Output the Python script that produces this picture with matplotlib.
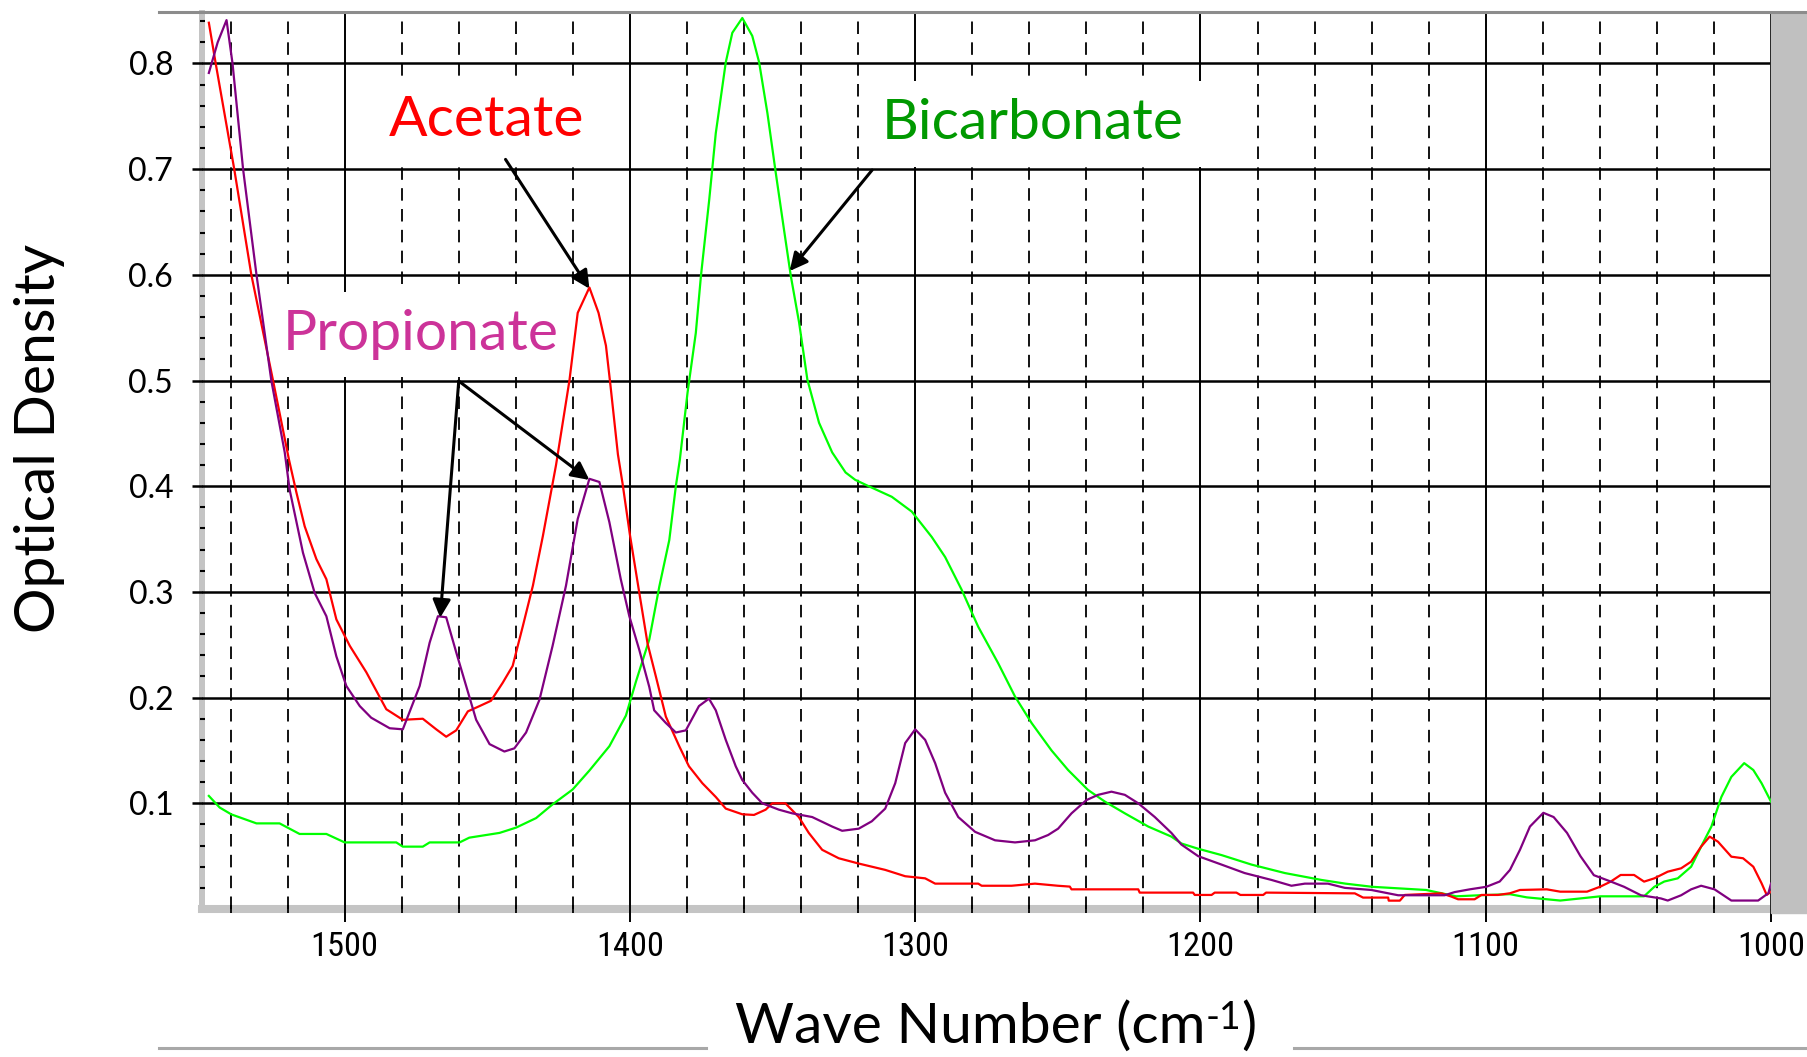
import matplotlib
matplotlib.use('Agg')
import matplotlib.pyplot as plt
from matplotlib.lines import Line2D
from matplotlib.patches import Rectangle
from matplotlib import font_manager as fm

plt.rcParams['font.family'] = ['Lato', 'DejaVu Sans']
plt.rcParams['lines.scale_dashes'] = False

# ---------------- data ----------------
acetate_wn = [1547.6, 1545.2, 1538.7, 1532.7, 1525.1, 1519.5, 1516.9, 1514.0, 1509.9, 1506.4,
              1502.9, 1498.2, 1492.4, 1485.4, 1479.6, 1472.6, 1467.9, 1464.4, 1460.9, 1456.8,
              1452.7, 1448.7, 1444.6, 1441.1, 1437.5, 1434.0, 1430.5, 1425.9, 1421.2, 1418.3,
              1414.2, 1411.0, 1408.4, 1406.8, 1404.2, 1402.6, 1400.0, 1396.7, 1393.8, 1390.9,
              1387.4, 1382.7, 1379.3, 1374.6, 1369.9, 1366.4, 1360.6, 1356.5, 1352.4, 1350.1,
              1345.5, 1340.8, 1337.3, 1332.6, 1326.8, 1319.8, 1310.5, 1303.5, 1296.5, 1293.0,
              1277.9, 1276.7, 1266.2, 1258.0, 1250.0, 1245.8, 1245.2, 1221.8, 1221.3, 1202.6,
              1202.0, 1196.1, 1195.0, 1187.4, 1186.0, 1178.0, 1177.0, 1145.9, 1143.0, 1134.2,
              1134.0, 1130.1, 1128.4, 1115.5, 1112.0, 1109.7, 1103.9, 1101.5, 1095.7, 1091.5,
              1088.0, 1078.6, 1073.9, 1064.5, 1059.8, 1056.2, 1052.7, 1048.0, 1044.5, 1040.9,
              1036.2, 1031.5, 1028.0, 1024.5, 1021.5, 1018.6, 1013.9, 1009.8, 1006.2, 1003.3,
              1001.5, 1000.0]
acetate_od = [0.8385, 0.800, 0.700, 0.600, 0.500, 0.425, 0.394, 0.362, 0.331, 0.312,
              0.274, 0.249, 0.224, 0.189, 0.179, 0.180, 0.170, 0.163, 0.169, 0.187,
              0.192, 0.197, 0.214, 0.230, 0.268, 0.306, 0.353, 0.420, 0.500, 0.564,
              0.588, 0.564, 0.533, 0.495, 0.430, 0.403, 0.354, 0.299, 0.251, 0.220,
              0.182, 0.154, 0.135, 0.119, 0.106, 0.095, 0.0896, 0.089, 0.094, 0.100,
              0.100, 0.087, 0.072, 0.056, 0.048, 0.043, 0.037, 0.031, 0.029, 0.024,
              0.024, 0.022, 0.022, 0.024, 0.022, 0.0212, 0.0186, 0.0186, 0.0155, 0.0155,
              0.0133, 0.0133, 0.0155, 0.0155, 0.0133, 0.0133, 0.0155, 0.0148, 0.0108, 0.0108,
              0.0079, 0.0079, 0.0133, 0.0148, 0.0117, 0.0092, 0.0092, 0.0133, 0.0133, 0.0149,
              0.018, 0.0186, 0.0164, 0.0164, 0.0212, 0.0259, 0.0322, 0.0322, 0.0259, 0.029,
              0.0353, 0.0385, 0.0448, 0.059, 0.0685, 0.0637, 0.0495, 0.048, 0.040, 0.0243,
              0.0133, 0.0164]

propionate_wn = [1547.6, 1544.5, 1541.4, 1539.3, 1535.6, 1530.9, 1525.7, 1521.0, 1519.3, 1514.6,
                 1510.5, 1506.4, 1502.9, 1499.4, 1494.7, 1490.7, 1484.2, 1479.6, 1473.7, 1470.2,
                 1467.3, 1464.4, 1460.9, 1457.4, 1453.9, 1449.2, 1444.0, 1440.5, 1436.4, 1431.7,
                 1427.1, 1422.4, 1418.3, 1414.2, 1410.7, 1407.2, 1403.2, 1400.2, 1396.7, 1393.2,
                 1391.5, 1387.4, 1383.9, 1380.4, 1375.8, 1372.3, 1369.9, 1366.4, 1362.9, 1360.6,
                 1357.1, 1353.6, 1347.8, 1343.1, 1336.1, 1329.1, 1325.6, 1319.8, 1315.2, 1310.5,
                 1307.0, 1303.5, 1300.0, 1296.5, 1293.0, 1289.5, 1284.9, 1279.0, 1272.0, 1265.0,
                 1258.0, 1253.4, 1249.9, 1245.2, 1240.0, 1235.9, 1231.2, 1226.5, 1221.8, 1216.0,
                 1210.2, 1206.7, 1200.8, 1192.6, 1184.5, 1175.1, 1168.1, 1163.4, 1155.3, 1149.4,
                 1140.1, 1130.7, 1114.4, 1110.9, 1105.6, 1099.8, 1095.1, 1091.5, 1088.0, 1084.5,
                 1079.8, 1076.2, 1071.5, 1066.8, 1062.1, 1056.2, 1051.5, 1045.6, 1038.6, 1036.2,
                 1031.5, 1028.0, 1024.5, 1019.8, 1013.9, 1004.5, 1000.9, 1000.0]
propionate_od = [0.791, 0.820, 0.841, 0.800, 0.700, 0.600, 0.500, 0.432, 0.397, 0.337,
                 0.299, 0.277, 0.239, 0.211, 0.192, 0.181, 0.171, 0.170, 0.211, 0.252,
                 0.277, 0.276, 0.243, 0.211, 0.179, 0.156, 0.149, 0.152, 0.167, 0.198,
                 0.249, 0.306, 0.369, 0.407, 0.404, 0.366, 0.312, 0.277, 0.245, 0.210,
                 0.188, 0.176, 0.167, 0.169, 0.192, 0.199, 0.188, 0.160, 0.135, 0.122,
                 0.110, 0.100, 0.094, 0.0905, 0.087, 0.078, 0.074, 0.076, 0.083, 0.095,
                 0.119, 0.157, 0.170, 0.160, 0.138, 0.110, 0.087, 0.073, 0.065, 0.063,
                 0.065, 0.070, 0.076, 0.0905, 0.103, 0.108, 0.111, 0.108, 0.100, 0.087,
                 0.072, 0.061, 0.050, 0.042, 0.034, 0.0275, 0.022, 0.024, 0.024, 0.020,
                 0.018, 0.013, 0.013, 0.016, 0.0186, 0.021, 0.026, 0.037, 0.056, 0.078,
                 0.091, 0.087, 0.072, 0.050, 0.032, 0.026, 0.021, 0.013, 0.010, 0.008,
                 0.013, 0.0186, 0.022, 0.0186, 0.008, 0.008, 0.015, 0.024]

bicarbonate_wn = [1547.6, 1543.8, 1539.7, 1530.9, 1522.8, 1515.8, 1506.4, 1500.0, 1481.9, 1479.6,
                  1472.6, 1470.2, 1459.7, 1456.3, 1445.7, 1439.9, 1432.9, 1427.1, 1420.1, 1414.2,
                  1407.2, 1401.4, 1397.9, 1393.2, 1389.7, 1386.2, 1383.9, 1382.5, 1379.8, 1376.9,
                  1375.1, 1372.2, 1369.9, 1366.4, 1364.1, 1360.6, 1357.1, 1354.7, 1351.8, 1348.9,
                  1346.0, 1343.6, 1340.7, 1337.8, 1333.7, 1329.1, 1324.4, 1321.0, 1316.3, 1308.2,
                  1301.2, 1294.2, 1289.5, 1283.7, 1277.9, 1270.9, 1265.0, 1259.2, 1252.2, 1246.4,
                  1239.4, 1233.5, 1226.5, 1218.3, 1210.2, 1206.7, 1200.8, 1192.6, 1182.1, 1170.4,
                  1157.6, 1149.2, 1139.8, 1120.9, 1110.4, 1102.1, 1091.5, 1085.6, 1073.9, 1066.8,
                  1059.8, 1044.5, 1040.9, 1037.4, 1032.7, 1028.0, 1024.5, 1020.9, 1017.4, 1013.9,
                  1009.4, 1006.2, 1003.3, 1000.0]
bicarbonate_od = [0.107, 0.096, 0.0895, 0.081, 0.081, 0.071, 0.071, 0.063, 0.063, 0.059,
                  0.059, 0.063, 0.063, 0.0675, 0.072, 0.077, 0.086, 0.099, 0.113, 0.131,
                  0.154, 0.183, 0.215, 0.255, 0.305, 0.349, 0.400, 0.425, 0.4885, 0.545,
                  0.599, 0.671, 0.734, 0.801, 0.829, 0.843, 0.826, 0.801, 0.753, 0.697,
                  0.643, 0.599, 0.555, 0.501, 0.460, 0.432, 0.413, 0.406, 0.400, 0.390,
                  0.376, 0.352, 0.333, 0.302, 0.267, 0.2325, 0.201, 0.176, 0.150, 0.1315,
                  0.1126, 0.1016, 0.0905, 0.078, 0.0685, 0.062, 0.057, 0.051, 0.042, 0.034,
                  0.0275, 0.024, 0.021, 0.018, 0.012, 0.013, 0.014, 0.011, 0.008, 0.010,
                  0.012, 0.012, 0.021, 0.026, 0.029, 0.040, 0.059, 0.078, 0.106, 0.125,
                  0.138, 0.1315, 0.119, 0.1016]

x_major = [1500, 1400, 1300, 1200, 1100, 1000]
x_major_labels = ['1500', '1400', '1300', '1200', '1100', '1000']
x_minor = [1540, 1520, 1480, 1460, 1440, 1420, 1380, 1360, 1340, 1320, 1280, 1260, 1240,
           1220, 1180, 1160, 1140, 1120, 1080, 1060, 1040, 1020]
y_major = [0.1, 0.2, 0.3, 0.4, 0.5, 0.6, 0.7, 0.8]
y_major_labels = ['0.1', '0.2', '0.3', '0.4', '0.5', '0.6', '0.7', '0.8']
y_minor = [0.02, 0.04, 0.06, 0.08, 0.12, 0.14, 0.16, 0.18, 0.22, 0.24, 0.26, 0.28,
           0.32, 0.34, 0.36, 0.38, 0.42, 0.44, 0.46, 0.48, 0.52, 0.54, 0.56, 0.58,
           0.62, 0.64, 0.66, 0.68, 0.72, 0.74, 0.76, 0.78, 0.82, 0.84]


# ---------------- narrow font for the x tick labels ----------------
def find_narrow_font():
    prefs = ['liberation sans narrow', 'arial narrow', 'roboto condensed',
             'open sans condensed', 'noto sans condensed', 'dejavu sans condensed',
             'condensed', 'narrow']
    best, best_rank = None, 999
    for f in fm.fontManager.ttflist:
        fname = f.fname.lower()
        key = (f.name + ' ' + fname.split('/')[-1]).lower()
        if f.style != 'normal':
            continue
        if any(b in fname for b in ('bold', 'italic', 'oblique', 'mono', 'serif', 'light',
                                     'thin', 'medium', 'black', 'semi', 'extra')):
            continue
        st = str(f.stretch).lower()
        if not ('narrow' in key or 'condensed' in key or 'condensed' in st):
            continue
        for r, p in enumerate(prefs):
            if all(w in key for w in p.split()) or (p.startswith('dejavu') and 'dejavusanscondensed' in fname):
                if r < best_rank:
                    best, best_rank = f, r
                break
    if best is not None:
        return fm.FontProperties(fname=best.fname)
    return fm.FontProperties(family='Lato')


# ---------------- figure ----------------
W, H = 1808, 1057
fig = plt.figure(figsize=(W / 100, H / 100), dpi=100)
fig.patch.set_facecolor('white')
ax = fig.add_axes([202 / W, 1 - 909 / H, (1771 - 202) / W, (909 - 12.7) / H])
ax.set_xlim(1550, 1000)
ax.set_ylim(0, 0.848)

# grid
for v in y_major:
    ax.axhline(v, color='black', lw=1.8, zorder=1)
for w in x_major[:-1]:
    ax.axvline(w, color='black', lw=1.4, zorder=1)
ax.axvline(1000, color='black', lw=1.4, zorder=1, clip_on=False)
for w in x_minor:
    ax.axvline(w, color='black', lw=1.3, dashes=(9.0, 6.0), zorder=1)

# spines
for s in ['top', 'right']:
    ax.spines[s].set_visible(False)
ax.spines['left'].set_color('#c4c4c4')
ax.spines['left'].set_linewidth(4.3)
ax.spines['bottom'].set_color('#c4c4c4')
ax.spines['bottom'].set_linewidth(5.8)
ax.spines['left'].set_zorder(0.5)
ax.spines['bottom'].set_zorder(0.5)

# ticks
ax.set_xticks(x_major)
ax.set_xticklabels(x_major_labels)
ax.set_xticks(x_minor, minor=True)
ax.set_yticks(y_major)
ax.set_yticklabels(y_major_labels)
ax.set_yticks(y_minor, minor=True)
ax.tick_params(axis='x', which='major', direction='out', length=9, width=1.4,
               pad=7, colors='black')
ax.tick_params(axis='x', which='minor', direction='inout', length=6, width=1.3, colors='black')
ax.tick_params(axis='y', which='major', direction='out', length=7.2, width=1.8,
               pad=13.5, labelsize=23, colors='black')
ax.tick_params(axis='y', which='minor', direction='inout', length=3.6, width=1.5, colors='black')

renderer = fig.canvas.get_renderer()
narrow = find_narrow_font()
probe = fig.text(0, 0, '1500', fontproperties=narrow, fontsize=20)
pw = probe.get_window_extent(renderer).width
probe.remove()
xtick_size = min(30.0, 20.0 * 68.0 / pw)
for lbl in ax.get_xticklabels():
    lbl.set_fontproperties(narrow)
    lbl.set_fontsize(xtick_size)

# curves
ax.plot(bicarbonate_wn, bicarbonate_od, color='#00ff00', lw=1.6, zorder=3)
ax.plot(acetate_wn, acetate_od, color='#ff0000', lw=1.6, zorder=3.1)
ax.plot(propionate_wn, propionate_od, color='#800080', lw=1.6, zorder=3.2)

# labels with white boxes
box = dict(boxstyle='square,pad=0.3', fc='white', ec='none')
ax.text(1450.4, 0.7313, 'Acetate', color='#ff0000', fontsize=41, ha='center',
        va='baseline', bbox=box, zorder=2)
ax.text(1473.3, 0.5289, 'Propionate', color='#cc3399', fontsize=41, ha='center',
        va='baseline', bbox=box, zorder=2)
ax.text(1258.8, 0.7281, 'Bicarbonate', color='#009900', fontsize=41, ha='center',
        va='baseline', bbox=box, zorder=2)

arrow = dict(arrowstyle='-|>', color='black', lw=2.2, mutation_scale=27, shrinkA=0, shrinkB=0)
ax.annotate('', xy=(1414.2, 0.5869), xytext=(1443.6, 0.7092), arrowprops=arrow, zorder=5)
ax.annotate('', xy=(1466.5, 0.2756), xytext=(1460.0, 0.4995), arrowprops=arrow, zorder=5)
ax.annotate('', xy=(1414.2, 0.4059), xytext=(1460.0, 0.4995), arrowprops=arrow, zorder=5)
ax.annotate('', xy=(1344.0, 0.6036), xytext=(1315.1, 0.6991), arrowprops=arrow, zorder=5)

# axis titles
parts = [('Wave Number (cm', 41, 0), ('-1', 27, 14), (')', 41, 0)]
pieces, widths = [], []
for s, fs, dy in parts:
    t = fig.text(0, 0, s, fontsize=fs, ha='left', va='baseline')
    widths.append(t.get_window_extent(renderer).width)
    pieces.append(t)
xpos = 996 - sum(widths) / 2
base = H - 1043
for t, wd, (s, fs, dy) in zip(pieces, widths, parts):
    t.set_position((xpos / W, (base + dy) / H))
    xpos += wd
fig.text(40 / W, 1 - 438 / H, 'Optical Density', rotation=90, ha='center', va='center', fontsize=41)

# frame decorations
fig.add_artist(Rectangle((1771 / W, 1 - 913 / H), (W - 1771) / W, (913 - 12) / H,
                         transform=fig.transFigure, color='#c0c0c0', zorder=1))
fig.add_artist(Line2D([159 / W, 1], [1 - 12 / H, 1 - 12 / H], color='#8c8c8c', lw=2.2,
                      transform=fig.transFigure, zorder=2))
fig.add_artist(Line2D([159 / W, 706 / W], [1 - 1048 / H, 1 - 1048 / H], color='#a8a8a8', lw=2.2,
                      transform=fig.transFigure))
fig.add_artist(Line2D([1294 / W, 1], [1 - 1048 / H, 1 - 1048 / H], color='#a8a8a8', lw=2.2,
                      transform=fig.transFigure))

fig.savefig('out.png', dpi=100, facecolor='white')
